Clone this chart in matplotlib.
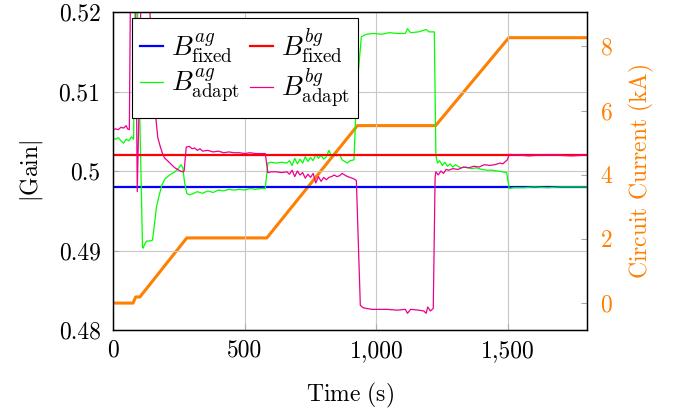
import matplotlib
matplotlib.use("Agg")
import matplotlib.pyplot as plt
from matplotlib.ticker import FuncFormatter
import numpy as np

plt.rcParams.update({
    "font.family": "serif",
    "font.serif": ["cmr10", "DejaVu Serif"],
    "mathtext.fontset": "cm",
    "axes.formatter.use_mathtext": True,
    "font.size": 17,
})

# fixed gains
B_FIXED_AG = 0.498
B_FIXED_BG = 0.502

# adaptive gain ag (time s, gain)
t_ag = [0, 10, 20, 30, 40, 50, 60, 70, 78, 84, 92, 112, 115, 120, 128, 140, 150, 158, 165, 172,
        185, 197, 215, 235, 250, 258, 265, 272, 280, 290, 300, 320, 340, 360, 380, 400, 420, 440,
        460, 480, 500, 520, 540, 560, 578, 588, 600, 620, 640, 660, 670, 680, 690, 700, 710, 720,
        730, 740, 750, 760, 770, 780, 790, 800, 810, 820, 830, 840, 850, 860, 870, 880, 890, 900,
        915, 925, 943, 962, 990, 1020, 1050, 1080, 1110, 1118, 1130, 1160, 1180, 1189, 1200, 1220,
        1226, 1232, 1240, 1250, 1260, 1270, 1280, 1290, 1300, 1320, 1340, 1360, 1380, 1400, 1420,
        1440, 1460, 1480, 1495, 1504, 1520, 1560, 1600, 1650, 1700, 1750, 1800]
g_ag = [0.5041, 0.5040, 0.5042, 0.5038, 0.5035, 0.5040, 0.5038, 0.5043, 0.5040, 0.5220, 0.5220,
        0.4904, 0.4903, 0.4908, 0.4912, 0.4912, 0.4913, 0.4935, 0.4955, 0.4965, 0.4982, 0.4990,
        0.4995, 0.4999, 0.5004, 0.5008, 0.5004, 0.4985, 0.4972, 0.4970, 0.4971, 0.4974, 0.4972,
        0.4975, 0.4973, 0.4976, 0.4975, 0.4977, 0.4976, 0.4977, 0.4976, 0.4978, 0.4977, 0.4978,
        0.4978, 0.5010, 0.5011, 0.5010, 0.5011, 0.5010, 0.5013, 0.5007, 0.5016, 0.5009, 0.5015,
        0.5010, 0.5018, 0.5012, 0.5017, 0.5013, 0.5021, 0.5016, 0.5020, 0.5015, 0.5018, 0.5026,
        0.5018, 0.5022, 0.5019, 0.5021, 0.5014, 0.5012, 0.5010, 0.5013, 0.5014, 0.5100, 0.5169,
        0.5172, 0.5173, 0.5172, 0.5174, 0.5173, 0.5173, 0.5179, 0.5174, 0.5175, 0.5177, 0.5178,
        0.5175, 0.5175, 0.5020, 0.5010, 0.5013, 0.5007, 0.5011, 0.5006, 0.5009, 0.5005, 0.5008,
        0.5004, 0.5005, 0.5003, 0.5004, 0.5002, 0.5001, 0.5001, 0.5000, 0.4999, 0.4998, 0.4978,
        0.4979, 0.4979, 0.4980, 0.4979, 0.4980, 0.4980, 0.4980]

# adaptive gain bg (time s, gain)
t_bg = [0, 10, 20, 30, 40, 50, 55, 62, 66, 86, 92, 100, 106, 140, 160, 170, 180, 190, 197, 210,
        225, 235, 245, 255, 265, 270, 278, 290, 300, 310, 320, 330, 340, 360, 380, 400, 420, 440,
        460, 480, 500, 520, 540, 560, 578, 588, 600, 620, 640, 660, 670, 680, 690, 700, 710, 720,
        730, 740, 750, 760, 770, 780, 790, 800, 810, 820, 830, 840, 850, 860, 870, 880, 890, 900,
        915, 924, 939, 950, 965, 985, 1000, 1040, 1080, 1110, 1118, 1130, 1160, 1180, 1189, 1195,
        1205, 1216, 1223, 1226, 1235, 1245, 1255, 1265, 1275, 1290, 1310, 1330, 1350, 1370, 1390,
        1410, 1430, 1450, 1470, 1480, 1490, 1497, 1505, 1540, 1580, 1620, 1680, 1740, 1800]
g_bg = [0.5052, 0.5053, 0.5052, 0.5055, 0.5054, 0.5057, 0.5053, 0.5052, 0.5220, 0.5220, 0.4974,
        0.5100, 0.5220, 0.5200, 0.5075, 0.5042, 0.5030, 0.5020, 0.5016, 0.5012, 0.5007, 0.5004,
        0.5002, 0.5000, 0.4999, 0.5000, 0.5030, 0.5031, 0.5028, 0.5029, 0.5026, 0.5028, 0.5025,
        0.5026, 0.5024, 0.5025, 0.5023, 0.5024, 0.5023, 0.5023, 0.5022, 0.5023, 0.5022, 0.5022,
        0.5022, 0.4998, 0.4999, 0.4999, 0.4998, 0.4999, 0.4996, 0.5001, 0.4993, 0.5000, 0.4995,
        0.4998, 0.4991, 0.4996, 0.4992, 0.4997, 0.4985, 0.4993, 0.4987, 0.4992, 0.4989, 0.4992,
        0.4993, 0.4995, 0.4993, 0.4994, 0.4997, 0.4995, 0.4993, 0.4992, 0.4990, 0.4988, 0.4831,
        0.4828, 0.4827, 0.4826, 0.4826, 0.4826, 0.4825, 0.4826, 0.4821, 0.4826, 0.4825, 0.4824,
        0.4821, 0.4829, 0.4824, 0.4827, 0.4992, 0.4999, 0.4995, 0.5000, 0.4997, 0.5002, 0.5001,
        0.5003, 0.5002, 0.5005, 0.5004, 0.5006, 0.5005, 0.5008, 0.5007, 0.5008, 0.5010, 0.5009,
        0.5012, 0.5014, 0.5021, 0.5020, 0.5019, 0.5020, 0.5020, 0.5019, 0.5020]

# circuit current (time s, kA)
t_cur = [0, 76, 86, 102, 280, 584, 928, 1225, 1503, 1800]
i_cur = [0.0, 0.0, 0.19, 0.19, 2.03, 2.03, 5.53, 5.53, 8.27, 8.27]

ORANGE = "#FF8000"
PINK = "#EC008C"

fig = plt.figure(figsize=(6.74, 4.11), dpi=100)
ax = fig.add_axes([0.1677, 0.197, 0.7033, 0.7738])
ax2 = ax.twinx()

ax.axhline(B_FIXED_AG, color="#0000FF", lw=1.6, label=r"$B^{ag}_{\mathrm{fixed}}$")
ax.plot(t_ag, g_ag, color="#00FF00", lw=0.9, label=r"$B^{ag}_{\mathrm{adapt}}$")
ax.axhline(B_FIXED_BG, color="#FF0000", lw=1.6, label=r"$B^{bg}_{\mathrm{fixed}}$")
ax.plot(t_bg, g_bg, color=PINK, lw=0.9, label=r"$B^{bg}_{\mathrm{adapt}}$")
ax2.plot(t_cur, i_cur, color=ORANGE, lw=2.2)

ax.set_xlim(0, 1800)
ax.set_ylim(0.48, 0.52)
ax2.set_ylim(-0.84, 9.07)
ax.set_xticks([0, 500, 1000, 1500])
ax.set_yticks([0.48, 0.49, 0.5, 0.51, 0.52])
ax2.set_yticks([0, 2, 4, 6, 8])
ax.xaxis.set_major_formatter(FuncFormatter(lambda v, p: f"{int(v):,}"))
ax.yaxis.set_major_formatter(FuncFormatter(lambda v, p: f"{v:g}"))
ax.grid(True, color="#C8C8C8", lw=0.8)
ax.set_axisbelow(True)

ax.tick_params(direction="in", length=4, color="#AAAAAA", pad=9, labelsize=17)
ax.tick_params(axis="x", pad=7)
ax2.tick_params(direction="in", length=4, color="#AAAAAA", pad=9, labelsize=17, labelcolor=ORANGE)
for sp in ax.spines.values():
    sp.set_linewidth(1.0)
ax2.spines["right"].set_color("black")

ax.set_xlabel(r"$\mathrm{Time\ (s)}$", fontsize=17, labelpad=14)
ax.set_ylabel(r"$|\mathrm{Gain}|$", fontsize=17, labelpad=10)
ax2.set_ylabel(r"$\mathrm{Circuit\ Current\ (kA)}$", fontsize=17, color=ORANGE, labelpad=10)

leg = ax.legend(ncol=2, loc="upper left", bbox_to_anchor=(0.04, 0.981), fontsize=19.5,
                frameon=True, fancybox=False, framealpha=1, edgecolor="black",
                handlelength=0.85, columnspacing=0.35, handletextpad=0.3,
                borderpad=0.3, labelspacing=0.05, borderaxespad=0)
leg.get_frame().set_linewidth(0.8)
leg.set_zorder(10)
ax.set_zorder(ax2.get_zorder() + 1)
ax.patch.set_visible(False)

fig.savefig("out.png", dpi=100)
